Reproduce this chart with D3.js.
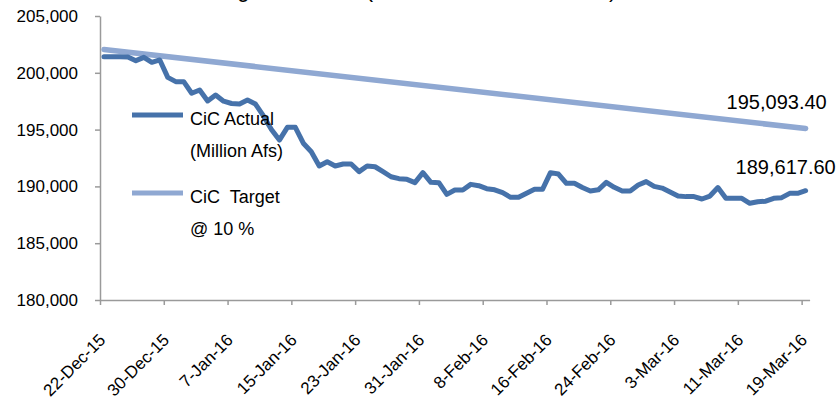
<!DOCTYPE html>
<html>
<head>
<meta charset="utf-8">
<script src="https://cdn.jsdelivr.net/npm/d3@7"></script>
<style>
  body { margin: 0; background: #fff; }
  svg { display: block; font-family: "Liberation Sans", Arial, sans-serif; }
</style>
</head>
<body>
<svg id="chart" width="837" height="400"></svg>
<script>
// Chart data
const titleText = 'CiC Actual vs. Target, 2015/16 (Million Afs at Month End)';
const firstDay = '22-Dec-15';
const actualValues = [
  201420, 201420, 201420, 201400, 201070, 201360, 200920, 201130, 199600, 199220,
  199220, 198200, 198490, 197520, 198050, 197500, 197300, 197250, 197600, 197250,
  196200, 195000, 194080, 195200, 195200, 193800, 193050, 191800, 192170, 191800,
  191970, 191970, 191300, 191800, 191730, 191300, 190850, 190680, 190620, 190330,
  191210, 190360, 190330, 189300, 189680, 189680, 190180, 190060, 189800, 189700,
  189450, 189040, 189040, 189400, 189740, 189740, 191210, 191090, 190270, 190270,
  189900, 189600, 189700, 190360, 189920, 189600, 189600, 190120, 190420, 190000,
  189850, 189500, 189150, 189100, 189100, 188890, 189150, 189900, 188950, 188950,
  188950, 188510, 188650, 188700, 188950, 189010, 189390, 189390, 189617.6
];
const targetDays = ['22-Dec-15', '19-Mar-16'];
const targetValues = [202050, 195093.4];
const xTickLabels = [
  '22-Dec-15', '30-Dec-15', '7-Jan-16', '15-Jan-16', '23-Jan-16', '31-Jan-16',
  '8-Feb-16', '16-Feb-16', '24-Feb-16', '3-Mar-16', '11-Mar-16', '19-Mar-16'
];
const yTickValues = [180000, 185000, 190000, 195000, 200000, 205000];
const legendItems = [
  { lines: ['CiC Actual', '(Million Afs)'], series: 'actual' },
  { lines: ['CiC  Target', '@ 10 %'], series: 'target' }
];

const colors = { actual: '#4672aa', target: '#8fa8d2' };
const parseDay = d3.utcParse('%d-%b-%y');

const svg = d3.select('#chart');

// Scales: each day is a slot, points sit in the middle of it
const x = d3.scaleUtc()
  .domain([parseDay('22-Dec-15'), parseDay('20-Mar-16')])
  .range([100, 809.6]);
const y = d3.scaleLinear()
  .domain([180000, 205000])
  .range([300, 16]);
const mid = d => d3.utcHour.offset(d, 12);

const start = parseDay(firstDay);
const actual = actualValues.map((v, i) => ({ date: d3.utcDay.offset(start, i), value: v }));
const target = targetDays.map((d, i) => ({ date: parseDay(d), value: targetValues[i] }));

// Title (mostly above the visible area, as in the source)
svg.append('text')
  .attr('x', 64)
  .attr('y', -3.5)
  .attr('font-size', 22)
  .attr('fill', '#000')
  .text(titleText);

// Y axis
const yAxis = svg.append('g')
  .attr('transform', 'translate(100,0)')
  .call(d3.axisLeft(y)
    .tickValues(yTickValues)
    .tickFormat(d3.format(','))
    .tickSize(5)
    .tickSizeOuter(0)
    .tickPadding(17));
yAxis.selectAll('text').attr('font-size', 17).attr('fill', '#000')
  .attr('font-family', '"Liberation Sans", Arial, sans-serif');

// X axis
const xAxis = svg.append('g')
  .attr('transform', 'translate(0,300)')
  .call(d3.axisBottom(x)
    .tickValues(xTickLabels.map(parseDay))
    .tickFormat((d, i) => xTickLabels[i])
    .tickSize(5)
    .tickSizeOuter(0));
xAxis.selectAll('text')
  .attr('font-size', 17)
  .attr('fill', '#000')
  .attr('font-family', '"Liberation Sans", Arial, sans-serif')
  .attr('x', 0).attr('y', 0).attr('dy', null)
  .attr('transform', 'translate(6,41) rotate(-45)')
  .style('text-anchor', 'end');

svg.selectAll('.domain, .tick line').attr('stroke', '#9a9a9a').attr('stroke-width', 1.5);

// Lines
const line = d3.line()
  .x(d => x(mid(d.date)))
  .y(d => y(d.value));

svg.append('path')
  .datum(target)
  .attr('d', line)
  .attr('fill', 'none')
  .attr('stroke', colors.target)
  .attr('stroke-width', 5.5)
  .attr('stroke-linecap', 'round');

svg.append('path')
  .datum(actual)
  .attr('d', line)
  .attr('fill', 'none')
  .attr('stroke', colors.actual)
  .attr('stroke-width', 5)
  .attr('stroke-linejoin', 'round')
  .attr('stroke-linecap', 'round');

// End labels
const lastTarget = target[target.length - 1];
const lastActual = actual[actual.length - 1];
const fmt2 = d3.format(',.2f');
svg.append('text')
  .attr('x', x(mid(lastTarget.date)) - 79)
  .attr('y', y(lastTarget.value) - 20)
  .attr('font-size', 20)
  .text(fmt2(lastTarget.value));
svg.append('text')
  .attr('x', x(mid(lastActual.date)) - 70)
  .attr('y', y(lastActual.value) - 17)
  .attr('font-size', 20)
  .text(fmt2(lastActual.value));

// Legend
const legend = svg.append('g').attr('transform', 'translate(132,115)');
legendItems.forEach((item, i) => {
  const g = legend.append('g').attr('transform', `translate(0,${i * 78})`);
  g.append('line')
    .attr('x1', 0).attr('x2', 51)
    .attr('y1', 0).attr('y2', 0)
    .attr('stroke', colors[item.series])
    .attr('stroke-width', 5);
  item.lines.forEach((t, j) => {
    g.append('text')
      .attr('x', 58)
      .attr('y', 10 + j * 32)
      .attr('font-size', 18)
      .attr('fill', '#000')
      .style('white-space', 'pre')
      .text(t);
  });
});
</script>
</body>
</html>
